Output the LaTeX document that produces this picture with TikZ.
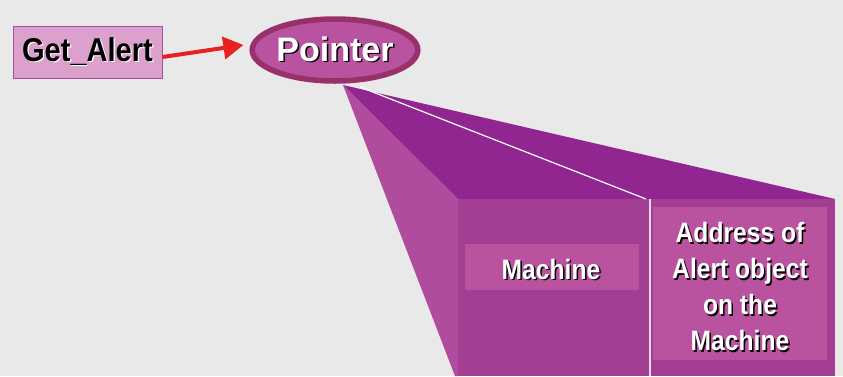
\documentclass[tikz,border=0pt]{standalone}
\usepackage{fontspec}
\setmainfont{Liberation Sans}
\newfontfamily\condfont[FakeStretch=0.88]{Liberation Sans}
\usetikzlibrary{shapes.geometric,arrows.meta}
\definecolor{bgc}{RGB}{233,233,233}
\definecolor{getfill}{RGB}{220,160,204}
\definecolor{getedge}{RGB}{165,80,158}
\definecolor{ellfill}{RGB}{185,82,159}
\definecolor{elledge}{RGB}{152,48,106}
\definecolor{topface}{RGB}{145,38,144}
\definecolor{leftface}{RGB}{176,76,158}
\definecolor{frontface}{RGB}{163,63,147}
\definecolor{labfill}{RGB}{185,82,159}
\definecolor{arrred}{RGB}{232,32,32}
\newcommand\shd[1]{\makebox[0pt][l]{\kern1.5pt\raisebox{-1.5pt}{\textcolor{black}{#1}}}#1}
\newcommand\hil[1]{\makebox[0pt][l]{\kern1.2pt\raisebox{-1.2pt}{\textcolor{white}{#1}}}#1}
\tikzset{
  getbox/.style={draw=getedge, line width=1pt, fill=getfill, minimum width=149pt, minimum height=52pt, inner sep=0pt, font=\condfont\fontsize{33}{35}\selectfont\bfseries},
  ptr/.style={ellipse, draw=elledge, line width=5.5pt, fill=ellfill, minimum width=145pt, minimum height=62pt, inner sep=0pt, text=white, font=\fontsize{34}{36}\selectfont\bfseries},
  labbox/.style={fill=labfill, inner sep=0pt},
  labtext/.style={inner sep=0pt, text=white, align=center, font=\condfont\fontsize{28}{36}\selectfont\bfseries},
  redarrow/.style={draw=arrred, line width=4pt, -{Triangle[length=20pt, width=22pt]}}
}
\begin{document}
\begin{tikzpicture}[x=1pt, y=-1pt]
\useasboundingbox (0,0) rectangle (843,376);
\fill[bgc] (0,0) rectangle (843,376);
% frustum
\coordinate (apexL) at (343,85);
\coordinate (apexR) at (360,87);
\coordinate (ftl) at (458,199);
\coordinate (ftr) at (835,199);
\coordinate (fmid) at (650,199);
\coordinate (fbl) at (458,376);
\coordinate (fbr) at (835,376);
\coordinate (fmidb) at (650,376);
\fill[leftface] (apexL) -- (ftl) -- (fbl) -- (455,376) -- cycle;
\fill[topface] (apexL) -- (ftr) -- (ftl) -- cycle;
\fill[frontface] (ftl) rectangle (fbr);
\draw[white, line width=1.2pt] (apexR) -- (646,199);
\draw[white!80!frontface, line width=1.5pt] (fmid) -- (fmidb);
\node[labbox, minimum width=174pt, minimum height=46pt] (machinebox) at (552,267) {};
\node[labtext] (machine) at (551,270) {\shd{Machine}};
\node[labbox, minimum width=174pt, minimum height=153pt] (addrbox) at (740,283.5) {};
\node[labtext] (addr) at (740,287.5) {\shd{Address of}\\\shd{Alert object}\\\shd{on the}\\\shd{Machine}};
% top elements
\node[getbox] (getalert) at (87.5,52) {\hil{Get\_Alert}};
\node[ptr] (pointer) at (335,50) {\shd{Pointer}};
\draw[redarrow] ([yshift=-5pt]getalert.east) -- ([yshift=5pt, xshift=-6pt]pointer.west);
\end{tikzpicture}
\end{document}
